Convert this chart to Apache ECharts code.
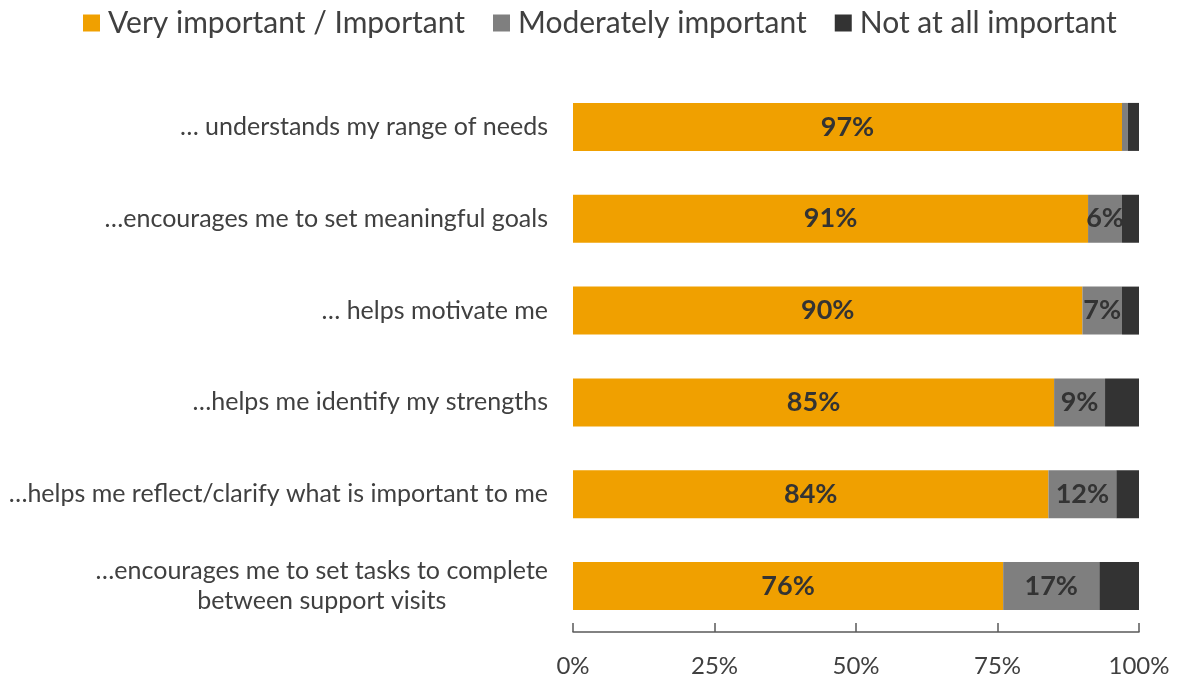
<!DOCTYPE html>
<html>
<head>
<meta charset="utf-8">
<script src="https://cdn.jsdelivr.net/npm/echarts@6/dist/echarts.min.js"></script>
<style>
  html, body { margin: 0; padding: 0; background: #fff; }
  #chart { width: 1177px; height: 680px; }
</style>
</head>
<body>
<div id="chart"></div>
<script>
// Survey statements (top to bottom)
const categories = [
  '… understands my range of needs',
  '…encourages me to set meaningful goals',
  '… helps motivate me',
  '…helps me identify my strengths',
  '…helps me reflect/clarify what is important to me',
  '…encourages me to set tasks to complete\nbetween support visits'
];

// Share of responses per statement, in percent
const veryImportant = [97, 91, 90, 85, 84, 76];
const moderatelyImportant = [1, 6, 7, 9, 12, 17];
const notImportant = [2, 3, 3, 6, 4, 7];

const seriesNames = ['Very important / Important', 'Moderately important', 'Not at all important'];
const seriesColors = ['#F0A000', '#7F7F7F', '#333333'];

const xTicks = [0, 25, 50, 75, 100];

const FONT = 'Lato, "Open Sans", sans-serif';
const TEXT = '#404040';

const chart = echarts.init(document.getElementById('chart'), null, { renderer: 'canvas' });

function segmentLabel(show) {
  return {
    show: show,
    position: 'inside',
    color: '#333333',
    fontFamily: FONT,
    fontWeight: 'bold',
    fontSize: 27,
    formatter: p => (p.value >= 5 ? p.value + '%' : '')
  };
}

const values = [veryImportant, moderatelyImportant, notImportant];

chart.setOption({
  animation: false,
  backgroundColor: '#ffffff',
  legend: {
    top: 3,
    left: 78,
    icon: 'rect',
    itemWidth: 17,
    itemHeight: 17,
    itemGap: 28,
    textStyle: { color: TEXT, fontFamily: FONT, fontSize: 30, padding: [0, 0, 0, 3] },
    data: seriesNames
  },
  grid: { left: 573, right: 38, top: 81, bottom: 48, containLabel: false },
  xAxis: {
    type: 'value',
    min: 0,
    max: 100,
    interval: 25,
    splitLine: { show: false },
    axisLine: { show: true, lineStyle: { color: '#595959', width: 1.5 } },
    axisTick: { show: true, inside: true, length: 9, lineStyle: { color: '#595959', width: 1.5 } },
    axisLabel: {
      color: TEXT,
      fontFamily: FONT,
      fontSize: 24,
      margin: 22,
      formatter: v => (xTicks.includes(v) ? v + '%' : '')
    }
  },
  yAxis: {
    type: 'category',
    inverse: true,
    data: categories,
    axisLine: { show: false },
    axisTick: { show: false },
    axisLabel: {
      color: TEXT,
      fontFamily: FONT,
      fontSize: 25,
      margin: 25,
      lineHeight: 30,
      formatter: v => v.split('\n').map(s => '{c|' + s + '}').join('\n'),
      rich: { c: { align: 'center', color: TEXT, fontFamily: FONT, fontSize: 25, lineHeight: 30 } }
    }
  },
  series: seriesNames.map((name, i) => ({
    name: name,
    type: 'bar',
    stack: 'total',
    barWidth: 48,
    itemStyle: { color: seriesColors[i] },
    label: segmentLabel(i < 2),
    data: values[i]
  }))
});
</script>
</body>
</html>
